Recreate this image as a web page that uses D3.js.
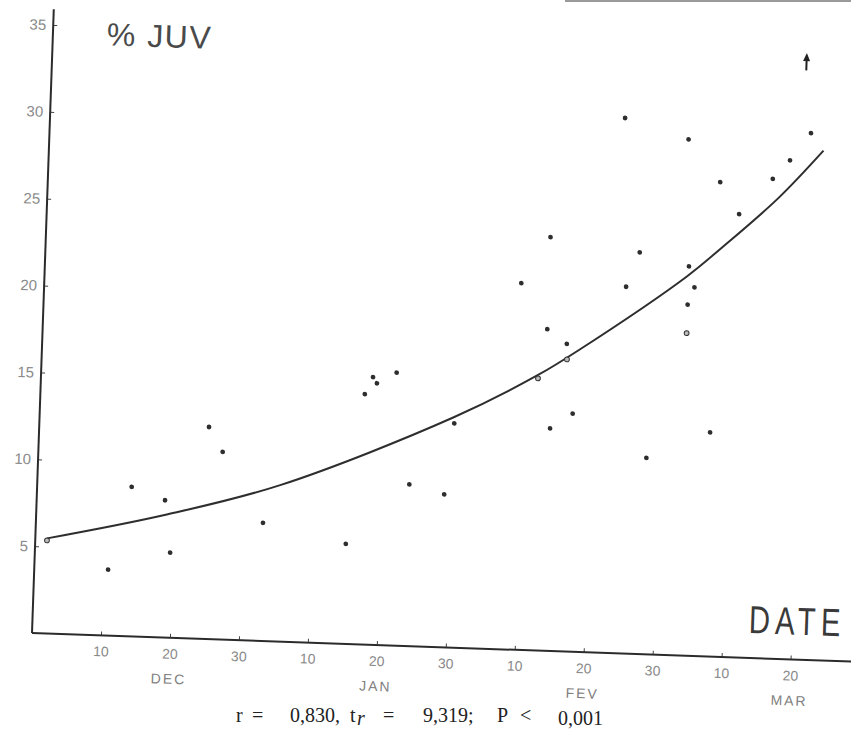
<!DOCTYPE html>
<html>
<head>
<meta charset="utf-8">
<script src="https://cdn.jsdelivr.net/npm/d3@7"></script>
<style>
  body { margin: 0; background: #fff; }
  svg { display: block; }
  .tick text { font-family: "Liberation Sans", sans-serif; fill: #8a8a8a; }
</style>
</head>
<body>
<div id="chart"></div>
<script>
// x values are in axis units (one tick = 10 units, Dec 10 = 10 ... Mar 20 = 110)
const juvDay = [10.7, 13.7, 18.6, 19.6, 24.6, 26.7, 32.9, 45.0, 47.0, 48.1, 48.7, 51.5, 53.9, 59.0, 60.1,
    69.1, 73.1, 73.1, 74.0, 76.0, 77.2, 83.3, 84.3, 86.1, 88.1,
    92.6, 93.3, 93.3, 94.2, 97.2, 97.4, 100.3, 105.0, 107.4, 110.3];
const juvPct = [3.8, 8.6, 7.9, 4.9, 12.2, 10.8, 6.8, 5.75, 14.4, 15.4, 15.05, 15.7, 9.3, 8.8, 12.9,
    21.1, 18.5, 23.8, 12.8, 17.7, 13.7, 30.8, 21.1, 23.1, 11.3,
    29.7, 22.4, 20.2, 21.2, 12.9, 27.3, 25.5, 27.6, 28.7, 30.3];

// points that sit on the curve (drawn open)
const openDay = [1.7, 72.0, 76.1, 93.3];
const openPct = [5.35, 15.65, 16.8, 18.55];

// fitted curve
const curveDay = [1.7, 18.6, 35.2, 60.0, 72.0, 77.9, 93.0, 98.0, 105.9, 112.2];
const curvePct = [5.47, 7.05, 9.0, 13.25, 15.85, 17.4, 21.8, 23.55, 26.5, 29.32];

// off-scale point
const arrowDay = 109.3;
const arrowFrom = 33.9;
const arrowTo = 34.9;

const xTicks = [10, 20, 30, 40, 50, 60, 70, 80, 90, 100, 110];
const xTickLabels = ["10", "20", "30", "10", "20", "30", "10", "20", "30", "10", "20"];
const monthPos = [20, 50, 80, 110];
const monthNames = ["DEC", "JAN", "FEV", "MAR"];
const yTicks = [5, 10, 15, 20, 25, 30, 35];

const width = 851, height = 733;

const svg = d3.select("#chart").append("svg")
    .attr("width", width)
    .attr("height", height);

// scan artifact along the top edge
svg.append("line")
    .attr("x1", 565).attr("x2", 851).attr("y1", 1).attr("y2", 1)
    .attr("stroke", "#9a9a9a").attr("stroke-width", 2);

// the scanned figure is tilted about 2 degrees
const g = svg.append("g")
    .attr("transform", "translate(32,633) rotate(2)");

const x = d3.scaleLinear().domain([0, 110]).range([0, 759]);
const y = d3.scaleLinear().domain([0, 35]).range([0, -608.4]);

// axes
const xAxis = g.append("g")
    .call(d3.axisBottom(x)
        .tickValues(xTicks)
        .tickSize(-4)
        .tickPadding(11)
        .tickFormat((d, i) => xTickLabels[i]));
xAxis.select(".domain").remove();
xAxis.selectAll(".tick line").attr("stroke", "#444");
xAxis.selectAll(".tick text").style("font-size", "14px");

const yAxis = g.append("g")
    .call(d3.axisLeft(y)
        .tickValues(yTicks)
        .tickSize(-4)
        .tickPadding(7));
yAxis.select(".domain").remove();
yAxis.selectAll(".tick line").attr("stroke", "#444");
yAxis.selectAll(".tick text").style("font-size", "15px");

g.append("line")
    .attr("x1", x(0)).attr("y1", y(0))
    .attr("x2", x(122)).attr("y2", y(0))
    .attr("stroke", "#2b2b2b").attr("stroke-width", 2);
g.append("line")
    .attr("x1", x(0)).attr("y1", y(0))
    .attr("x2", x(0)).attr("y2", y(35.9))
    .attr("stroke", "#2b2b2b").attr("stroke-width", 2);

// month labels
g.selectAll(".month")
    .data(monthNames)
    .enter()
    .append("text")
    .attr("class", "month")
    .attr("x", (d, i) => x(monthPos[i]))
    .attr("y", 46)
    .attr("text-anchor", "middle")
    .style("font-family", "Liberation Sans, sans-serif")
    .style("font-size", "14px")
    .style("letter-spacing", "2px")
    .attr("fill", "#808080")
    .text(d => d);

// titles
g.append("text")
    .attr("x", 54).attr("y", -590)
    .style("font-family", "Liberation Sans, sans-serif")
    .style("font-size", "32px")
    .style("letter-spacing", "1.5px")
    .attr("fill", "#4a4a4a")
    .text("% JUV");

// narrow, spaced lettering like the stencil
g.append("text")
    .attr("transform", "translate(716,-25) scale(0.75,1)")
    .style("font-family", "Liberation Sans, sans-serif")
    .style("font-size", "39px")
    .style("letter-spacing", "7px")
    .attr("fill", "#3a3a3a")
    .text("DATE");

// curve
const line = d3.line()
    .x((d, i) => x(curveDay[i]))
    .y((d, i) => y(curvePct[i]))
    .curve(d3.curveCatmullRom.alpha(0.5));

g.append("path")
    .datum(curvePct)
    .attr("d", line)
    .attr("fill", "none")
    .attr("stroke", "#2e2e2e")
    .attr("stroke-width", 2);

// points
g.selectAll(".dot")
    .data(juvPct)
    .enter()
    .append("circle")
    .attr("class", "dot")
    .attr("cx", (d, i) => x(juvDay[i]))
    .attr("cy", d => y(d))
    .attr("r", 2.4)
    .attr("fill", "#2e2e2e");

g.selectAll(".open")
    .data(openPct)
    .enter()
    .append("circle")
    .attr("class", "open")
    .attr("cx", (d, i) => x(openDay[i]))
    .attr("cy", d => y(d))
    .attr("r", 2.4)
    .attr("fill", "#bbb")
    .attr("stroke", "#333")
    .attr("stroke-width", 1);

// arrow for the off-scale value
g.append("line")
    .attr("x1", x(arrowDay)).attr("y1", y(arrowFrom))
    .attr("x2", x(arrowDay)).attr("y2", y(arrowTo) + 6)
    .attr("stroke", "#222").attr("stroke-width", 2);
g.append("path")
    .attr("d", `M${x(arrowDay)},${y(arrowTo)} l-3.5,8 l7,0 Z`)
    .attr("fill", "#222");

// statistics line under the figure
const stat = svg.append("text")
    .attr("y", 722)
    .style("font-family", "Liberation Serif, serif")
    .style("font-size", "20px")
    .attr("fill", "#222");
stat.append("tspan").attr("x", 236).text("r");
stat.append("tspan").attr("x", 252).text("=");
stat.append("tspan").attr("x", 290).text("0,830,");
stat.append("tspan").attr("x", 350).text("t");
stat.append("tspan").attr("x", 357).attr("dy", 3).style("font-style", "italic").text("r");
stat.append("tspan").attr("x", 383).attr("dy", -3).text("=");
stat.append("tspan").attr("x", 423).text("9,319;");
stat.append("tspan").attr("x", 497).text("P");
stat.append("tspan").attr("x", 520).text("<");
stat.append("tspan").attr("x", 558).attr("dy", 3).text("0,001");
</script>
</body>
</html>
